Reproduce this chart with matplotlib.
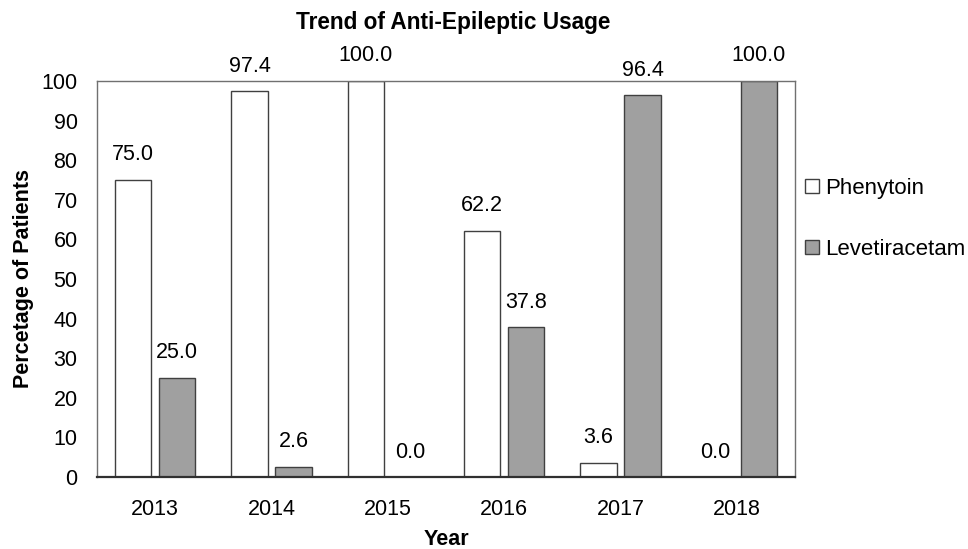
import numpy as np
import matplotlib.pyplot as plt
from matplotlib.patches import Patch

plt.rcParams['font.family'] = ['Liberation Sans', 'DejaVu Sans']

years = ['2013', '2014', '2015', '2016', '2017', '2018']
phenytoin = [75.0, 97.4, 100.0, 62.2, 3.6, 0.0]
levetiracetam = [25.0, 2.6, 0.0, 37.8, 96.4, 100.0]

fig = plt.figure(figsize=(9.68, 5.49), dpi=100)
ax = fig.add_axes([97 / 968, 72 / 549, 698 / 968, 396 / 549])

x = np.arange(len(years))
w = 0.31
off = 0.189
edge = '#404040'
b1 = ax.bar(x - off, phenytoin, w, color='white', edgecolor=edge, linewidth=1)
b2 = ax.bar(x + off, levetiracetam, w, color='#a0a0a0', edgecolor=edge, linewidth=1)

for bars, vals in [(b1, phenytoin), (b2, levetiracetam)]:
    for b, v in zip(bars, vals):
        ax.annotate(f'{v:.1f}', (b.get_x() + b.get_width() / 2, v),
                    xytext=(0, 18), textcoords='offset points',
                    ha='center', va='center', fontsize=15.5, clip_on=False)

ax.set_xlim(-0.5, 5.5)
ax.set_ylim(0, 100)
ax.set_yticks(range(0, 101, 10))
ax.set_xticks(x)
ax.set_xticklabels(years)
ax.tick_params(length=0, labelsize=15.5)
ax.tick_params(axis='y', pad=14)
ax.tick_params(axis='x', pad=16)

for s in ['left', 'top', 'right']:
    ax.spines[s].set_color('#707070')
    ax.spines[s].set_linewidth(1)
ax.spines['bottom'].set_color('#303030')
ax.spines['bottom'].set_linewidth(1.6)

ax.set_xlabel('Year', fontsize=15.5, fontweight='bold', labelpad=6.5)
ax.set_ylabel('Percetage of Patients', fontsize=15.5, fontweight='bold', labelpad=5)
fig.text(453 / 968, 1 - 22 / 549, 'Trend of Anti-Epileptic Usage', ha='center', va='center',
         fontsize=16.3, fontweight='bold')

handles = [Patch(facecolor='white', edgecolor=edge, linewidth=1),
           Patch(facecolor='#a0a0a0', edgecolor=edge, linewidth=1)]
fig.legend(handles, ['Phenytoin', 'Levetiracetam'], loc='center left',
           bbox_to_anchor=(805 / 968, 1 - 219 / 549), frameon=False, fontsize=16,
           handlelength=0.62, handleheight=0.62, handletextpad=0.3, labelspacing=1.8,
           borderaxespad=0, borderpad=0)

fig.savefig('out.png', dpi=100)
